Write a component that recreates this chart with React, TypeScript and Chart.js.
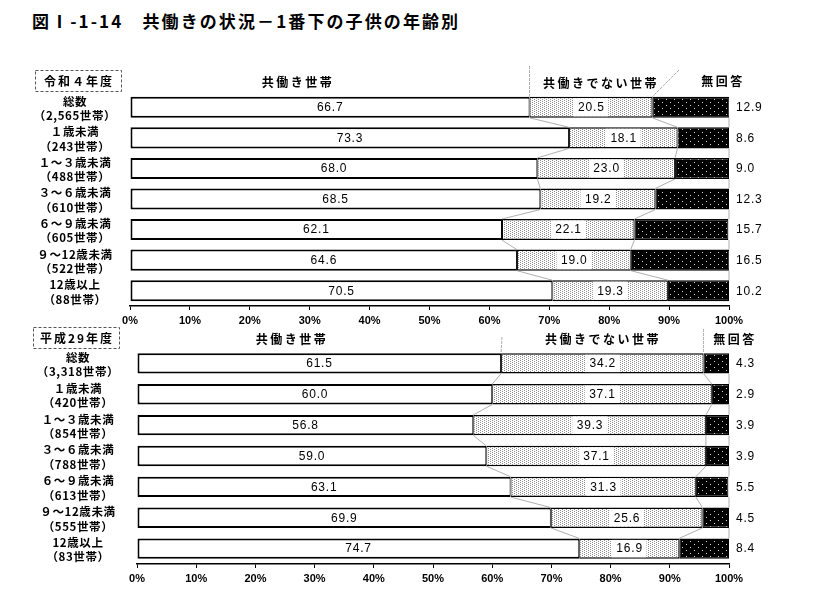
import { useEffect, useRef } from "react";
import { Chart, registerables } from "chart.js";

Chart.register(...registerables);

// ---------- data ----------
const categories = ["総数", "１歳未満", "１～３歳未満", "３～６歳未満", "６～９歳未満", "９～12歳未満", "12歳以上"];
const seriesNames = ["共働き世帯", "共働きでない世帯", "無回答"];
const xTicks = [0, 10, 20, 30, 40, 50, 60, 70, 80, 90, 100];

const countsR4 = ["2,565", "243", "488", "610", "605", "522", "88"];
const dualR4 = [66.7, 73.3, 68.0, 68.5, 62.1, 64.6, 70.5];
const nonDualR4 = [20.5, 18.1, 23.0, 19.2, 22.1, 19.0, 19.3];
const noAnswerR4 = [12.9, 8.6, 9.0, 12.3, 15.7, 16.5, 10.2];

const countsH29 = ["3,318", "420", "854", "788", "613", "555", "83"];
const dualH29 = [61.5, 60.0, 56.8, 59.0, 63.1, 69.9, 74.7];
const nonDualH29 = [34.2, 37.1, 39.3, 37.1, 31.3, 25.6, 16.9];
const noAnswerH29 = [4.3, 2.9, 3.9, 3.9, 5.5, 4.5, 8.4];

const title = "図Ⅰ-1-14　共働きの状況－1番下の子供の年齢別";

// ---------- patterns ----------
function makeLightPattern(): CanvasPattern | string {
  const c = document.createElement("canvas");
  c.width = 4;
  c.height = 2;
  const g = c.getContext("2d");
  if (!g) return "#ddd";
  g.fillStyle = "#ffffff";
  g.fillRect(0, 0, 4, 2);
  g.fillStyle = "#8c8c8c";
  g.fillRect(0, 0, 1, 1);
  g.fillRect(2, 1, 1, 1);
  return g.createPattern(c, "repeat") || "#ddd";
}
function makeDarkPattern(): CanvasPattern | string {
  const c = document.createElement("canvas");
  c.width = 8;
  c.height = 6;
  const g = c.getContext("2d");
  if (!g) return "#000";
  g.fillStyle = "#000000";
  g.fillRect(0, 0, 8, 6);
  g.fillStyle = "#d8d8d8";
  g.fillRect(2, 1, 1, 1);
  g.fillRect(6, 4, 1, 1);
  return g.createPattern(c, "repeat") || "#000";
}

type Leader = { startX: number | null; startY: number; boundary: number };
type PanelCfg = {
  counts: string[];
  dual: number[];
  nonDual: number[];
  noAnswer: number[];
  period: string;
  periodBox: { x: number; y: number; w: number; h: number };
  headers: { x: number; y: number }[];
  leaders: Leader[];
  labelX: number;
  canvasTop: number;
  padding: { left: number; right: number; top: number; bottom: number };
  barPct: number;
};

const CJK = '"Noto Sans CJK JP", "Noto Sans", sans-serif';
const NUM = '"Liberation Sans", Arial, sans-serif';

function makePlugin(cfg: PanelCfg) {
  return {
    id: "decor",
    afterDatasetsDraw(chart: any) {
      const ctx: CanvasRenderingContext2D = chart.ctx;
      const xs = chart.scales.x;
      const area = chart.chartArea;
      const top = cfg.canvasTop;
      const meta0 = chart.getDatasetMeta(0);
      const rows = meta0.data.map((el: any) => {
        const p = el.getProps(["y", "height"], true);
        return { y: p.y, h: p.height };
      });
      const bounds = (i: number) => [
        xs.getPixelForValue(cfg.dual[i]),
        xs.getPixelForValue(cfg.dual[i] + cfg.nonDual[i]),
        area.right,
      ];
      ctx.save();
      // connectors between bars
      ctx.strokeStyle = "#9a9a9a";
      ctx.lineWidth = 0.8;
      for (let i = 0; i < rows.length - 1; i++) {
        const a = bounds(i);
        const b = bounds(i + 1);
        const y1 = rows[i].y + rows[i].h / 2;
        const y2 = rows[i + 1].y - rows[i + 1].h / 2;
        for (let k = 0; k < 3; k++) {
          ctx.beginPath();
          ctx.moveTo(a[k], y1);
          ctx.lineTo(b[k], y2);
          ctx.stroke();
        }
      }
      // leaders from headers
      ctx.strokeStyle = "#9a9a9a";
      ctx.setLineDash([3, 1]);
      cfg.leaders.forEach((l) => {
        const bx = bounds(0)[l.boundary];
        const by = rows[0].y - rows[0].h / 2;
        ctx.beginPath();
        ctx.moveTo(l.startX === null ? bx : l.startX, l.startY - top);
        ctx.lineTo(bx, by);
        ctx.stroke();
      });
      ctx.setLineDash([]);

      // values
      ctx.fillStyle = "#000";
      ctx.textBaseline = "middle";
      ctx.font = `12px ${NUM}`;
      (ctx as any).letterSpacing = "0.8px";
      rows.forEach((r: any, i: number) => {
        const b = bounds(i);
        ctx.textAlign = "center";
        const v1 = cfg.dual[i].toFixed(1);
        ctx.fillStyle = "#000";
        ctx.fillText(v1, (area.left + b[0]) / 2 + 0.4, r.y + 0.5);
        const v2 = cfg.nonDual[i].toFixed(1);
        const cx = (b[0] + b[1]) / 2;
        const w = ctx.measureText(v2).width + 8;
        ctx.fillStyle = "#fff";
        ctx.fillRect(cx - w / 2, r.y - r.h / 2 + 1.5, w, r.h - 3);
        ctx.fillStyle = "#000";
        ctx.fillText(v2, cx + 0.4, r.y + 0.5);
        ctx.textAlign = "left";
        ctx.fillText(cfg.noAnswer[i].toFixed(1), area.right + 7, r.y + 0.5);
      });

      // row labels
      (ctx as any).letterSpacing = "0.6px";
      ctx.font = `bold 11.5px ${CJK}`;
      ctx.textAlign = "center";
      rows.forEach((r: any, i: number) => {
        ctx.fillText(categories[i], cfg.labelX, r.y - 6);
        ctx.fillText(`（${cfg.counts[i]}世帯）`, cfg.labelX, r.y + 8.5);
      });

      // period box
      const pb = cfg.periodBox;
      ctx.strokeStyle = "#555";
      ctx.lineWidth = 1;
      ctx.setLineDash([3, 2]);
      ctx.strokeRect(pb.x + 0.5, pb.y - top + 0.5, pb.w, pb.h);
      ctx.setLineDash([]);
      ctx.font = `bold 12px ${CJK}`;
      (ctx as any).letterSpacing = "2px";
      ctx.fillText(cfg.period, pb.x + pb.w / 2 + 1, pb.y - top + pb.h / 2 + 0.5);

      // headers
      ctx.font = `bold 12px ${CJK}`;
      (ctx as any).letterSpacing = "2.5px";
      cfg.headers.forEach((h, k) => {
        ctx.fillText(seriesNames[k], h.x + 1, h.y - top);
      });
      (ctx as any).letterSpacing = "0px";
      ctx.restore();
    },
  };
}

function makeConfig(cfg: PanelCfg, light: any, dark: any): any {
  return {
    type: "bar",
    data: {
      labels: categories,
      datasets: [
        {
          label: seriesNames[0],
          data: cfg.dual,
          backgroundColor: "#ffffff",
          borderColor: "#000",
          borderWidth: { left: 2, top: 2, bottom: 2, right: 1 },
          borderSkipped: false,
        },
        {
          label: seriesNames[1],
          data: cfg.nonDual,
          backgroundColor: light,
          borderColor: "#000",
          borderWidth: { left: 1, top: 1.5, bottom: 1.5, right: 1 },
          borderSkipped: false,
        },
        {
          label: seriesNames[2],
          data: cfg.noAnswer,
          backgroundColor: dark,
          borderColor: "#000",
          borderWidth: { left: 1, top: 1.5, bottom: 1.5, right: 1 },
          borderSkipped: false,
        },
      ],
    },
    options: {
      indexAxis: "y",
      responsive: false,
      animation: false,
      events: [],
      layout: { padding: cfg.padding },
      datasets: { bar: { categoryPercentage: 1, barPercentage: cfg.barPct } },
      plugins: { legend: { display: false }, tooltip: { enabled: false }, title: { display: false } },
      scales: {
        y: { type: "category", stacked: true, display: false },
        x: {
          type: "linear",
          stacked: true,
          min: 0,
          max: 100,
          afterBuildTicks: (s: any) => {
            s.ticks = xTicks.map((v) => ({ value: v }));
          },
          afterFit: (s: any) => {
            s.height = 26;
          },
          ticks: {
            color: "#000",
            padding: 4,
            font: { family: NUM, size: 11, weight: "bold" },
            callback: (v: any) => `${v}%`,
          },
          grid: { drawOnChartArea: false, drawTicks: true, tickLength: 4, color: "#000", lineWidth: 1 },
          border: { display: true, color: "#000", width: 1.5 },
        },
      },
    },
    plugins: [makePlugin(cfg)],
  };
}

const panelR4: PanelCfg = {
  counts: countsR4,
  dual: dualR4,
  nonDual: nonDualR4,
  noAnswer: noAnswerR4,
  period: "令和４年度",
  periodBox: { x: 35, y: 70, w: 86, h: 21 },
  headers: [
    { x: 297, y: 82 },
    { x: 600, y: 83 },
    { x: 722, y: 81 },
  ],
  leaders: [
    { startX: null, startY: 66, boundary: 0 },
    { startX: 679, startY: 70, boundary: 1 },
  ],
  labelX: 75,
  canvasTop: 56,
  padding: { left: 130, right: 103, top: 36, bottom: 4 },
  barPct: 0.69,
};

const panelH29: PanelCfg = {
  counts: countsH29,
  dual: dualH29,
  nonDual: nonDualH29,
  noAnswer: noAnswerH29,
  period: "平成29年度",
  periodBox: { x: 33, y: 327, w: 86, h: 21 },
  headers: [
    { x: 291, y: 339 },
    { x: 602, y: 339 },
    { x: 734, y: 339 },
  ],
  leaders: [
    { startX: 502, startY: 337, boundary: 0 },
    { startX: null, startY: 329, boundary: 1 },
  ],
  labelX: 78,
  canvasTop: 318,
  padding: { left: 137, right: 103, top: 30, bottom: 8 },
  barPct: 0.66,
};

function Panel({ cfg }: { cfg: PanelCfg }) {
  const ref = useRef<HTMLCanvasElement | null>(null);
  useEffect(() => {
    if (!ref.current) return;
    const chart = new Chart(ref.current, makeConfig(cfg, makeLightPattern(), makeDarkPattern()));
    return () => chart.destroy();
  }, [cfg]);
  return (
    <canvas
      ref={ref}
      width={832}
      height={280}
      style={{ position: "absolute", left: 0, top: cfg.canvasTop, width: 832, height: 280 }}
    />
  );
}

export default function App() {
  return (
    <div style={{ position: "absolute", left: 0, top: 0, width: 832, height: 611, background: "#fff", overflow: "hidden" }}>
      <div
        style={{
          position: "absolute",
          left: 32,
          top: 9,
          font: `bold 17px ${CJK}`,
          letterSpacing: "2.1px",
          whiteSpace: "nowrap",
          color: "#000",
          lineHeight: "24px",
        }}
      >
        {title}
      </div>
      <Panel cfg={panelR4} />
      <Panel cfg={panelH29} />
    </div>
  );
}
